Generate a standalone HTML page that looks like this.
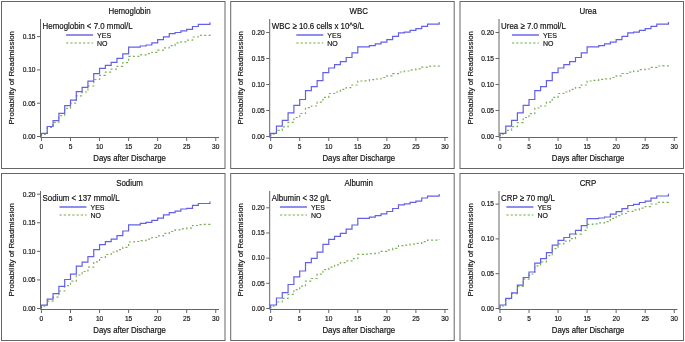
<!DOCTYPE html>
<html><head><meta charset="utf-8"><style>
html,body{margin:0;padding:0;background:#fff;}
svg{display:block;}
text{font-family:"Liberation Sans", sans-serif;fill:#111;stroke:#111;stroke-width:0.16px;}
.tx{font-size:7.8px;text-anchor:middle;}
svg{filter:blur(0.45px);}
.t{font-size:7.9px;text-anchor:middle;}
.lt{font-size:7.9px;}
.yl{font-size:6.6px;text-anchor:end;}
.xl{font-size:6.6px;text-anchor:middle;}
.lg{font-size:7.0px;}
</style></head><body>
<svg width="685" height="342" viewBox="0 0 685 342">
<rect width="685" height="342" fill="#fff"/>
<g transform="translate(0,0)">
<rect x="1.5" y="1.5" width="223.5" height="167" fill="none" stroke="#666" stroke-width="1"/>
<text transform="translate(129.5,13.9) scale(1,1.18)" class="t">Hemoglobin</text>
<path d="M40.5,19V137.5H219" fill="none" stroke="#666" stroke-width="1"/>
<path d="M37,136.50H40.5" stroke="#666" stroke-width="1"/>
<text x="35.5" y="138.80" class="yl">0.00</text>
<path d="M37,103.20H40.5" stroke="#666" stroke-width="1"/>
<text x="35.5" y="105.50" class="yl">0.05</text>
<path d="M37,69.90H40.5" stroke="#666" stroke-width="1"/>
<text x="35.5" y="72.20" class="yl">0.10</text>
<path d="M37,36.60H40.5" stroke="#666" stroke-width="1"/>
<text x="35.5" y="38.90" class="yl">0.15</text>
<path d="M41.45,138V141" stroke="#666" stroke-width="1"/>
<text x="41.45" y="148.6" class="xl">0</text>
<path d="M70.50,138V141" stroke="#666" stroke-width="1"/>
<text x="70.50" y="148.6" class="xl">5</text>
<path d="M99.55,138V141" stroke="#666" stroke-width="1"/>
<text x="99.55" y="148.6" class="xl">10</text>
<path d="M128.60,138V141" stroke="#666" stroke-width="1"/>
<text x="128.60" y="148.6" class="xl">15</text>
<path d="M157.65,138V141" stroke="#666" stroke-width="1"/>
<text x="157.65" y="148.6" class="xl">20</text>
<path d="M186.70,138V141" stroke="#666" stroke-width="1"/>
<text x="186.70" y="148.6" class="xl">25</text>
<path d="M215.75,138V141" stroke="#666" stroke-width="1"/>
<text x="215.75" y="148.6" class="xl">30</text>
<text transform="translate(129.6,160.7) scale(1,1.18)" class="tx">Days after Discharge</text>
<text transform="translate(14.1,77.7) rotate(-90)" x="0" y="0" class="t">Probability of Readmission</text>
<text transform="translate(42.6,28.7) scale(1,1.18)" class="lt">Hemoglobin < 7.0 mmol/L</text>
<path d="M66.07,35h27" stroke="#8282ec" stroke-width="1.8"/>
<text transform="translate(97.07,37.6) scale(1,1.1)" class="lg">YES</text>
<path d="M66.07,43h27" stroke="#9ccc84" stroke-width="1.7" stroke-dasharray="2.3,1.95"/>
<text transform="translate(97.07,45.6) scale(1,1.1)" class="lg">NO</text>
<path d="M41.45,136.50V134.50H47.26V127.50H53.07V122.40H58.88V115.60H64.69V108.30H70.50V103.20H76.31V95.90H82.12V92.00H87.93V86.00H93.74V79.50H99.55V75.30H105.36V72.20H111.17V69.20H116.98V66.30H122.79V62.60H128.60V56.40H134.41V56.40H140.22V54.80H146.03V53.70H151.84V52.30H157.65V50.10H163.46V47.90H169.27V45.70H175.08V42.80H180.89V41.80H186.70V40.10H192.51V37.00H198.32V35.30H204.13V35.30H209.94V33.30" fill="none" stroke="#7cb055" stroke-width="1.2" stroke-dasharray="2,2.4"/>
<path d="M41.45,136.50V133.40H47.26V126.50H53.07V120.60H58.88V113.30H64.69V105.60H70.50V100.10H76.31V91.70H82.12V87.40H87.93V81.10H93.74V73.60H99.55V68.30H105.36V65.30H111.17V62.40H116.98V58.40H122.79V53.80H128.60V47.20H134.41V47.20H140.22V46.00H146.03V45.00H151.84V42.80H157.65V39.60H163.46V36.90H169.27V33.60H175.08V32.50H180.89V30.80H186.70V29.30H192.51V26.50H198.32V24.40H204.13V24.40H209.94V22.30" fill="none" stroke="#6360e6" stroke-width="1.2"/>
</g>
<g transform="translate(229.2,0)">
<rect x="1.5" y="1.5" width="223.5" height="167" fill="none" stroke="#666" stroke-width="1"/>
<text transform="translate(129.5,13.9) scale(1,1.18)" class="t">WBC</text>
<path d="M40.5,19V137.5H219" fill="none" stroke="#666" stroke-width="1"/>
<path d="M37,136.50H40.5" stroke="#666" stroke-width="1"/>
<text x="35.5" y="138.80" class="yl">0.00</text>
<path d="M37,110.50H40.5" stroke="#666" stroke-width="1"/>
<text x="35.5" y="112.80" class="yl">0.05</text>
<path d="M37,84.50H40.5" stroke="#666" stroke-width="1"/>
<text x="35.5" y="86.80" class="yl">0.10</text>
<path d="M37,58.50H40.5" stroke="#666" stroke-width="1"/>
<text x="35.5" y="60.80" class="yl">0.15</text>
<path d="M37,32.50H40.5" stroke="#666" stroke-width="1"/>
<text x="35.5" y="34.80" class="yl">0.20</text>
<path d="M41.45,138V141" stroke="#666" stroke-width="1"/>
<text x="41.45" y="148.6" class="xl">0</text>
<path d="M70.50,138V141" stroke="#666" stroke-width="1"/>
<text x="70.50" y="148.6" class="xl">5</text>
<path d="M99.55,138V141" stroke="#666" stroke-width="1"/>
<text x="99.55" y="148.6" class="xl">10</text>
<path d="M128.60,138V141" stroke="#666" stroke-width="1"/>
<text x="128.60" y="148.6" class="xl">15</text>
<path d="M157.65,138V141" stroke="#666" stroke-width="1"/>
<text x="157.65" y="148.6" class="xl">20</text>
<path d="M186.70,138V141" stroke="#666" stroke-width="1"/>
<text x="186.70" y="148.6" class="xl">25</text>
<path d="M215.75,138V141" stroke="#666" stroke-width="1"/>
<text x="215.75" y="148.6" class="xl">30</text>
<text transform="translate(129.6,160.7) scale(1,1.18)" class="tx">Days after Discharge</text>
<text transform="translate(14.1,77.7) rotate(-90)" x="0" y="0" class="t">Probability of Readmission</text>
<text transform="translate(42.6,28.7) scale(1,1.18)" class="lt">WBC ≥ 10.6 cells x 10^9/L</text>
<path d="M67.12,35h27" stroke="#8282ec" stroke-width="1.8"/>
<text transform="translate(98.12,37.6) scale(1,1.1)" class="lg">YES</text>
<path d="M67.12,43h27" stroke="#9ccc84" stroke-width="1.7" stroke-dasharray="2.3,1.95"/>
<text transform="translate(98.12,45.6) scale(1,1.1)" class="lg">NO</text>
<path d="M41.45,136.50V134.10H47.26V130.30H53.07V126.90H58.88V122.40H64.69V117.50H70.50V113.50H76.31V107.70H82.12V106.00H87.93V102.10H93.74V97.40H99.55V93.50H105.36V92.00H111.17V89.40H116.98V87.60H122.79V85.00H128.60V81.00H134.41V80.80H140.22V79.70H146.03V79.00H151.84V77.50H157.65V75.90H163.46V73.60H169.27V72.00H175.08V71.00H180.89V69.80H186.70V68.90H192.51V67.20H198.32V66.20H204.13V66.10H209.94V65.50" fill="none" stroke="#7cb055" stroke-width="1.2" stroke-dasharray="2,2.4"/>
<path d="M41.45,136.50V133.30H47.26V126.20H53.07V120.40H58.88V112.90H64.69V105.30H70.50V99.50H76.31V90.70H82.12V86.70H87.93V80.70H93.74V72.60H99.55V68.00H105.36V64.70H111.17V61.70H116.98V57.50H122.79V52.90H128.60V46.90H134.41V46.90H140.22V45.60H146.03V43.90H151.84V42.20H157.65V39.60H163.46V36.40H169.27V32.90H175.08V32.20H180.89V30.40H186.70V28.70H192.51V26.40H198.32V24.10H204.13V24.10H209.94V22.00" fill="none" stroke="#6360e6" stroke-width="1.2"/>
</g>
<g transform="translate(458.5,0)">
<rect x="1.5" y="1.5" width="223.5" height="167" fill="none" stroke="#666" stroke-width="1"/>
<text transform="translate(129.5,13.9) scale(1,1.18)" class="t">Urea</text>
<path d="M40.5,19V137.5H219" fill="none" stroke="#666" stroke-width="1"/>
<path d="M37,136.50H40.5" stroke="#666" stroke-width="1"/>
<text x="35.5" y="138.80" class="yl">0.00</text>
<path d="M37,110.50H40.5" stroke="#666" stroke-width="1"/>
<text x="35.5" y="112.80" class="yl">0.05</text>
<path d="M37,84.50H40.5" stroke="#666" stroke-width="1"/>
<text x="35.5" y="86.80" class="yl">0.10</text>
<path d="M37,58.50H40.5" stroke="#666" stroke-width="1"/>
<text x="35.5" y="60.80" class="yl">0.15</text>
<path d="M37,32.50H40.5" stroke="#666" stroke-width="1"/>
<text x="35.5" y="34.80" class="yl">0.20</text>
<path d="M41.45,138V141" stroke="#666" stroke-width="1"/>
<text x="41.45" y="148.6" class="xl">0</text>
<path d="M70.50,138V141" stroke="#666" stroke-width="1"/>
<text x="70.50" y="148.6" class="xl">5</text>
<path d="M99.55,138V141" stroke="#666" stroke-width="1"/>
<text x="99.55" y="148.6" class="xl">10</text>
<path d="M128.60,138V141" stroke="#666" stroke-width="1"/>
<text x="128.60" y="148.6" class="xl">15</text>
<path d="M157.65,138V141" stroke="#666" stroke-width="1"/>
<text x="157.65" y="148.6" class="xl">20</text>
<path d="M186.70,138V141" stroke="#666" stroke-width="1"/>
<text x="186.70" y="148.6" class="xl">25</text>
<path d="M215.75,138V141" stroke="#666" stroke-width="1"/>
<text x="215.75" y="148.6" class="xl">30</text>
<text transform="translate(129.6,160.7) scale(1,1.18)" class="tx">Days after Discharge</text>
<text transform="translate(14.1,77.7) rotate(-90)" x="0" y="0" class="t">Probability of Readmission</text>
<text transform="translate(42.6,28.7) scale(1,1.18)" class="lt">Urea ≥ 7.0 mmol/L</text>
<path d="M53.43,35h27" stroke="#8282ec" stroke-width="1.8"/>
<text transform="translate(84.43,37.6) scale(1,1.1)" class="lg">YES</text>
<path d="M53.43,43h27" stroke="#9ccc84" stroke-width="1.7" stroke-dasharray="2.3,1.95"/>
<text transform="translate(84.43,45.6) scale(1,1.1)" class="lg">NO</text>
<path d="M41.45,136.50V134.10H47.26V130.30H53.07V126.70H58.88V122.60H64.69V117.50H70.50V113.60H76.31V108.00H82.12V106.00H87.93V102.10H93.74V97.40H99.55V93.50H105.36V92.00H111.17V89.40H116.98V87.60H122.79V85.00H128.60V81.00H134.41V80.40H140.22V79.30H146.03V78.90H151.84V77.50H157.65V75.80H163.46V73.50H169.27V72.20H175.08V71.10H180.89V69.60H186.70V69.00H192.51V67.30H198.32V66.00H204.13V65.90H209.94V64.90" fill="none" stroke="#7cb055" stroke-width="1.2" stroke-dasharray="2,2.4"/>
<path d="M41.45,136.50V133.30H47.26V126.20H53.07V120.40H58.88V112.90H64.69V105.30H70.50V99.50H76.31V90.70H82.12V86.70H87.93V80.70H93.74V72.60H99.55V68.00H105.36V64.70H111.17V61.70H116.98V57.50H122.79V52.90H128.60V46.90H134.41V46.90H140.22V45.60H146.03V43.90H151.84V42.20H157.65V39.60H163.46V36.40H169.27V32.90H175.08V32.20H180.89V30.40H186.70V28.70H192.51V26.40H198.32V24.10H204.13V24.10H209.94V22.00" fill="none" stroke="#6360e6" stroke-width="1.2"/>
</g>
<g transform="translate(0,172)">
<rect x="1.5" y="1.5" width="223.5" height="167" fill="none" stroke="#666" stroke-width="1"/>
<text transform="translate(129.5,13.9) scale(1,1.18)" class="t">Sodium</text>
<path d="M40.5,19V137.5H219" fill="none" stroke="#666" stroke-width="1"/>
<path d="M37,136.50H40.5" stroke="#666" stroke-width="1"/>
<text x="35.5" y="138.80" class="yl">0.00</text>
<path d="M37,107.92H40.5" stroke="#666" stroke-width="1"/>
<text x="35.5" y="110.22" class="yl">0.05</text>
<path d="M37,79.35H40.5" stroke="#666" stroke-width="1"/>
<text x="35.5" y="81.65" class="yl">0.10</text>
<path d="M37,50.78H40.5" stroke="#666" stroke-width="1"/>
<text x="35.5" y="53.08" class="yl">0.15</text>
<path d="M37,22.20H40.5" stroke="#666" stroke-width="1"/>
<text x="35.5" y="24.50" class="yl">0.20</text>
<path d="M41.45,138V141" stroke="#666" stroke-width="1"/>
<text x="41.45" y="148.6" class="xl">0</text>
<path d="M70.50,138V141" stroke="#666" stroke-width="1"/>
<text x="70.50" y="148.6" class="xl">5</text>
<path d="M99.55,138V141" stroke="#666" stroke-width="1"/>
<text x="99.55" y="148.6" class="xl">10</text>
<path d="M128.60,138V141" stroke="#666" stroke-width="1"/>
<text x="128.60" y="148.6" class="xl">15</text>
<path d="M157.65,138V141" stroke="#666" stroke-width="1"/>
<text x="157.65" y="148.6" class="xl">20</text>
<path d="M186.70,138V141" stroke="#666" stroke-width="1"/>
<text x="186.70" y="148.6" class="xl">25</text>
<path d="M215.75,138V141" stroke="#666" stroke-width="1"/>
<text x="215.75" y="148.6" class="xl">30</text>
<text transform="translate(129.6,160.7) scale(1,1.18)" class="tx">Days after Discharge</text>
<text transform="translate(14.1,77.7) rotate(-90)" x="0" y="0" class="t">Probability of Readmission</text>
<text transform="translate(42.6,28.7) scale(1,1.18)" class="lt">Sodium < 137 mmol/L</text>
<path d="M59.49,35h27" stroke="#8282ec" stroke-width="1.8"/>
<text transform="translate(90.49,37.6) scale(1,1.1)" class="lg">YES</text>
<path d="M59.49,43h27" stroke="#9ccc84" stroke-width="1.7" stroke-dasharray="2.3,1.95"/>
<text transform="translate(90.49,45.6) scale(1,1.1)" class="lg">NO</text>
<path d="M41.45,136.50V134.10H47.26V129.10H53.07V125.10H58.88V119.00H64.69V113.60H70.50V109.20H76.31V103.00H82.12V99.50H87.93V95.10H93.74V89.80H99.55V85.50H105.36V82.50H111.17V80.00H116.98V77.70H122.79V75.30H128.60V70.00H134.41V69.50H140.22V68.60H146.03V67.20H151.84V65.50H157.65V63.80H163.46V61.40H169.27V59.50H175.08V57.90H180.89V56.90H186.70V56.20H192.51V53.50H198.32V52.60H204.13V52.40H209.94V51.60" fill="none" stroke="#7cb055" stroke-width="1.2" stroke-dasharray="2,2.4"/>
<path d="M41.45,136.50V133.10H47.26V127.10H53.07V121.70H58.88V114.30H64.69V107.50H70.50V102.20H76.31V94.20H82.12V90.20H87.93V84.60H93.74V77.60H99.55V72.60H105.36V69.70H111.17V67.10H116.98V63.60H122.79V59.00H128.60V52.80H134.41V52.80H140.22V51.40H146.03V50.30H151.84V48.30H157.65V46.10H163.46V42.90H169.27V40.70H175.08V39.20H180.89V37.00H186.70V36.30H192.51V33.40H198.32V31.50H204.13V31.50H209.94V29.40" fill="none" stroke="#6360e6" stroke-width="1.2"/>
</g>
<g transform="translate(229.2,172)">
<rect x="1.5" y="1.5" width="223.5" height="167" fill="none" stroke="#666" stroke-width="1"/>
<text transform="translate(129.5,13.9) scale(1,1.18)" class="t">Albumin</text>
<path d="M40.5,19V137.5H219" fill="none" stroke="#666" stroke-width="1"/>
<path d="M37,136.50H40.5" stroke="#666" stroke-width="1"/>
<text x="35.5" y="138.80" class="yl">0.00</text>
<path d="M37,111.33H40.5" stroke="#666" stroke-width="1"/>
<text x="35.5" y="113.62" class="yl">0.05</text>
<path d="M37,86.15H40.5" stroke="#666" stroke-width="1"/>
<text x="35.5" y="88.45" class="yl">0.10</text>
<path d="M37,60.98H40.5" stroke="#666" stroke-width="1"/>
<text x="35.5" y="63.28" class="yl">0.15</text>
<path d="M37,35.80H40.5" stroke="#666" stroke-width="1"/>
<text x="35.5" y="38.10" class="yl">0.20</text>
<path d="M41.45,138V141" stroke="#666" stroke-width="1"/>
<text x="41.45" y="148.6" class="xl">0</text>
<path d="M70.50,138V141" stroke="#666" stroke-width="1"/>
<text x="70.50" y="148.6" class="xl">5</text>
<path d="M99.55,138V141" stroke="#666" stroke-width="1"/>
<text x="99.55" y="148.6" class="xl">10</text>
<path d="M128.60,138V141" stroke="#666" stroke-width="1"/>
<text x="128.60" y="148.6" class="xl">15</text>
<path d="M157.65,138V141" stroke="#666" stroke-width="1"/>
<text x="157.65" y="148.6" class="xl">20</text>
<path d="M186.70,138V141" stroke="#666" stroke-width="1"/>
<text x="186.70" y="148.6" class="xl">25</text>
<path d="M215.75,138V141" stroke="#666" stroke-width="1"/>
<text x="215.75" y="148.6" class="xl">30</text>
<text transform="translate(129.6,160.7) scale(1,1.18)" class="tx">Days after Discharge</text>
<text transform="translate(14.1,77.7) rotate(-90)" x="0" y="0" class="t">Probability of Readmission</text>
<text transform="translate(42.6,28.7) scale(1,1.18)" class="lt">Albumin < 32 g/L</text>
<path d="M50.73,35h27" stroke="#8282ec" stroke-width="1.8"/>
<text transform="translate(81.73,37.6) scale(1,1.1)" class="lg">YES</text>
<path d="M50.73,43h27" stroke="#9ccc84" stroke-width="1.7" stroke-dasharray="2.3,1.95"/>
<text transform="translate(81.73,45.6) scale(1,1.1)" class="lg">NO</text>
<path d="M41.45,136.50V134.10H47.26V130.00H53.07V126.40H58.88V122.40H64.69V117.60H70.50V114.20H76.31V109.10H82.12V106.50H87.93V102.10H93.74V97.70H99.55V95.10H105.36V92.80H111.17V90.70H116.98V88.90H122.79V86.70H128.60V82.40H134.41V82.20H140.22V81.60H146.03V81.00H151.84V79.30H157.65V77.80H163.46V76.30H169.27V73.70H175.08V73.10H180.89V72.10H186.70V71.40H192.51V69.60H198.32V68.10H204.13V68.10H209.94V67.00" fill="none" stroke="#7cb055" stroke-width="1.2" stroke-dasharray="2,2.4"/>
<path d="M41.45,136.50V133.00H47.26V126.00H53.07V120.60H58.88V112.50H64.69V104.90H70.50V99.00H76.31V90.70H82.12V86.30H87.93V80.20H93.74V72.30H99.55V67.40H105.36V64.40H111.17V61.30H116.98V57.20H122.79V53.00H128.60V46.40H134.41V46.40H140.22V45.20H146.03V43.70H151.84V41.80H157.65V39.50H163.46V36.50H169.27V32.90H175.08V31.90H180.89V30.30H186.70V29.10H192.51V26.00H198.32V24.20H204.13V24.20H209.94V21.90" fill="none" stroke="#6360e6" stroke-width="1.2"/>
</g>
<g transform="translate(458.5,172)">
<rect x="1.5" y="1.5" width="223.5" height="167" fill="none" stroke="#666" stroke-width="1"/>
<text transform="translate(129.5,13.9) scale(1,1.18)" class="t">CRP</text>
<path d="M40.5,19V137.5H219" fill="none" stroke="#666" stroke-width="1"/>
<path d="M37,136.50H40.5" stroke="#666" stroke-width="1"/>
<text x="35.5" y="138.80" class="yl">0.00</text>
<path d="M37,101.70H40.5" stroke="#666" stroke-width="1"/>
<text x="35.5" y="104.00" class="yl">0.05</text>
<path d="M37,66.90H40.5" stroke="#666" stroke-width="1"/>
<text x="35.5" y="69.20" class="yl">0.10</text>
<path d="M37,32.10H40.5" stroke="#666" stroke-width="1"/>
<text x="35.5" y="34.40" class="yl">0.15</text>
<path d="M41.45,138V141" stroke="#666" stroke-width="1"/>
<text x="41.45" y="148.6" class="xl">0</text>
<path d="M70.50,138V141" stroke="#666" stroke-width="1"/>
<text x="70.50" y="148.6" class="xl">5</text>
<path d="M99.55,138V141" stroke="#666" stroke-width="1"/>
<text x="99.55" y="148.6" class="xl">10</text>
<path d="M128.60,138V141" stroke="#666" stroke-width="1"/>
<text x="128.60" y="148.6" class="xl">15</text>
<path d="M157.65,138V141" stroke="#666" stroke-width="1"/>
<text x="157.65" y="148.6" class="xl">20</text>
<path d="M186.70,138V141" stroke="#666" stroke-width="1"/>
<text x="186.70" y="148.6" class="xl">25</text>
<path d="M215.75,138V141" stroke="#666" stroke-width="1"/>
<text x="215.75" y="148.6" class="xl">30</text>
<text transform="translate(129.6,160.7) scale(1,1.18)" class="tx">Days after Discharge</text>
<text transform="translate(14.1,77.7) rotate(-90)" x="0" y="0" class="t">Probability of Readmission</text>
<text transform="translate(42.6,28.7) scale(1,1.18)" class="lt">CRP ≥ 70 mg/L</text>
<path d="M47.87,35h27" stroke="#8282ec" stroke-width="1.8"/>
<text transform="translate(78.88,37.6) scale(1,1.1)" class="lg">YES</text>
<path d="M47.87,43h27" stroke="#9ccc84" stroke-width="1.7" stroke-dasharray="2.3,1.95"/>
<text transform="translate(78.88,45.6) scale(1,1.1)" class="lg">NO</text>
<path d="M41.45,136.50V134.00H47.26V126.90H53.07V121.60H58.88V114.30H64.69V107.10H70.50V102.00H76.31V93.90H82.12V89.80H87.93V83.70H93.74V76.70H99.55V71.80H105.36V69.20H111.17V66.60H116.98V62.20H122.79V58.30H128.60V52.30H134.41V51.80H140.22V50.80H146.03V49.60H151.84V46.30H157.65V43.70H163.46V41.50H169.27V39.30H175.08V37.90H180.89V36.10H186.70V34.60H192.51V32.00H198.32V30.40H204.13V30.30H209.94V28.80" fill="none" stroke="#7cb055" stroke-width="1.2" stroke-dasharray="2,2.4"/>
<path d="M41.45,136.50V133.00H47.26V126.40H53.07V120.90H58.88V113.20H64.69V105.50H70.50V100.00H76.31V91.20H82.12V86.70H87.93V80.70H93.74V73.20H99.55V68.40H105.36V65.50H111.17V62.00H116.98V58.40H122.79V53.70H128.60V46.70H134.41V46.70H140.22V46.00H146.03V45.00H151.84V42.20H157.65V39.70H163.46V36.60H169.27V33.50H175.08V32.30H180.89V30.50H186.70V29.10H192.51V26.20H198.32V24.00H204.13V24.00H209.94V21.80" fill="none" stroke="#6360e6" stroke-width="1.2"/>
</g>
</svg>
</body></html>
